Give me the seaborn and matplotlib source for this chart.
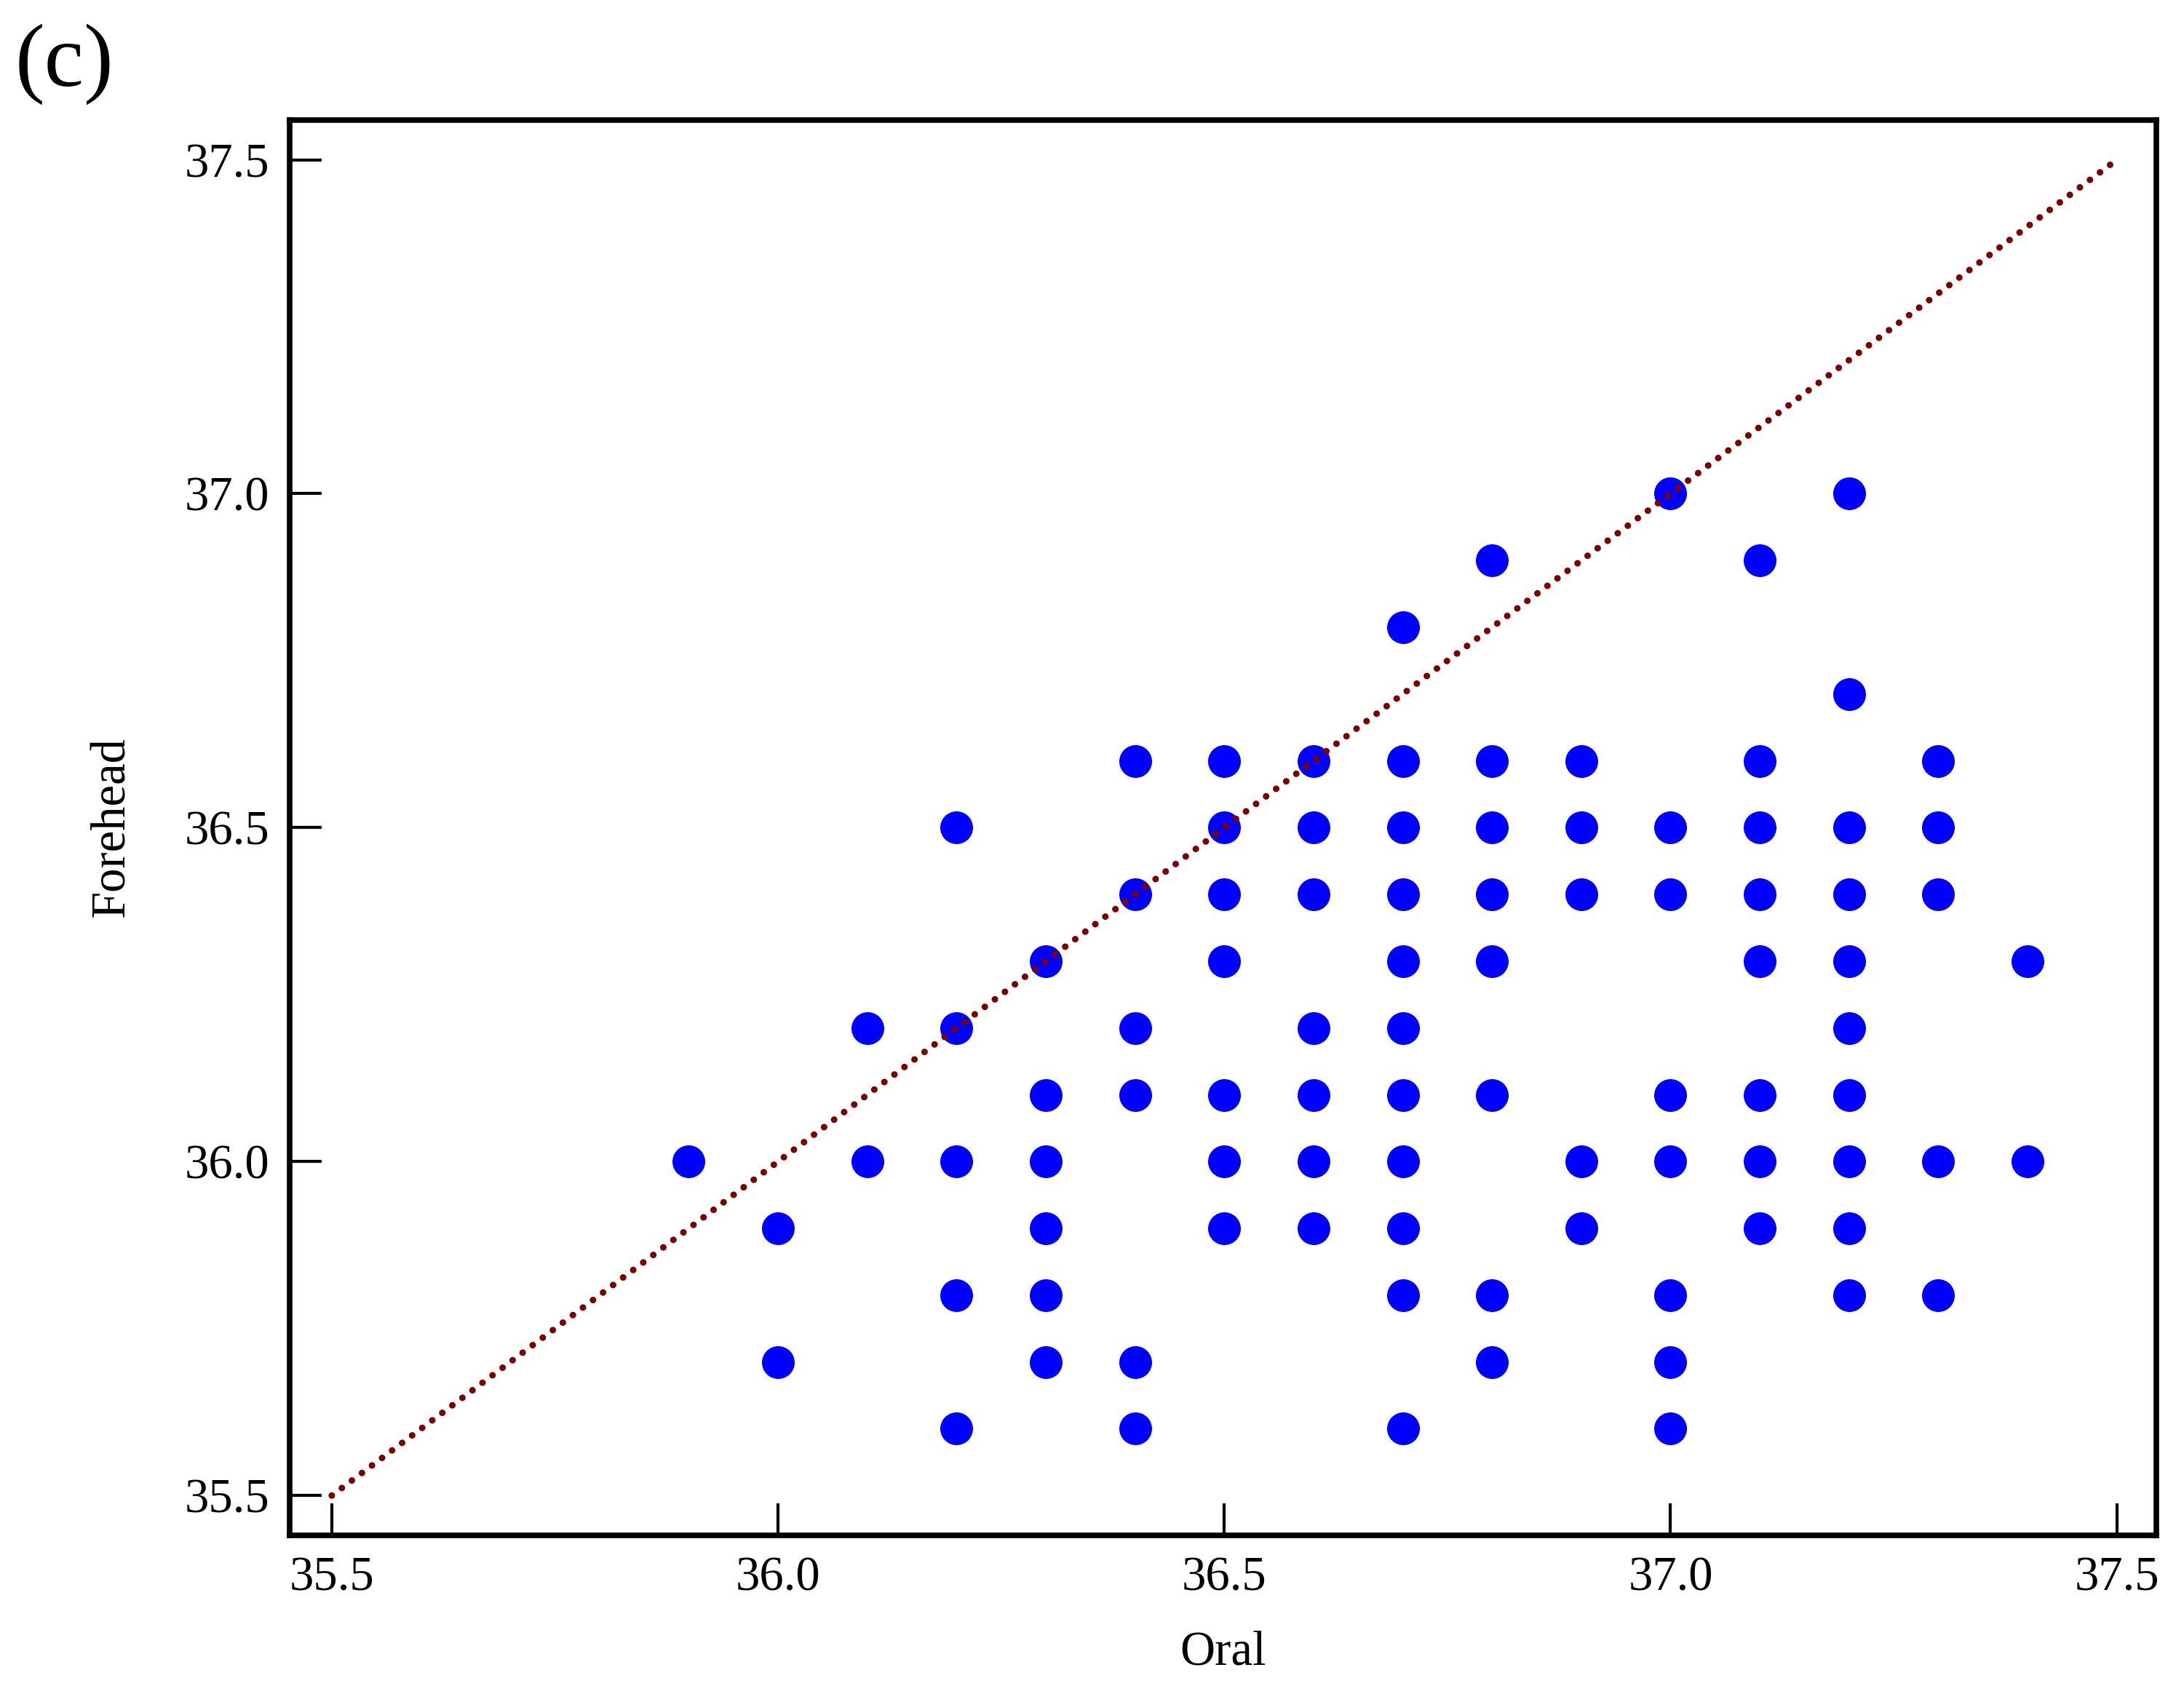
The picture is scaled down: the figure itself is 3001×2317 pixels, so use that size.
import matplotlib
matplotlib.use("Agg")
import matplotlib.pyplot as plt
import seaborn as sns
import pandas as pd

# Data: oral temperature (x) and forehead temperature (y)
oral_cols = [35.9, 36.0, 36.1, 36.2, 36.3, 36.4, 36.5, 36.6, 36.7, 36.8,
             36.9, 37.0, 37.1, 37.2, 37.3, 37.4]
forehead_vals = [
    [36.0],
    [35.9, 35.7],
    [36.2, 36.0],
    [36.5, 36.2, 36.0, 35.8, 35.6],
    [36.3, 36.1, 36.0, 35.9, 35.8, 35.7],
    [36.6, 36.4, 36.2, 36.1, 35.7, 35.6],
    [36.6, 36.5, 36.4, 36.3, 36.1, 36.0, 35.9],
    [36.6, 36.5, 36.4, 36.2, 36.1, 36.0, 35.9],
    [36.8, 36.6, 36.5, 36.4, 36.3, 36.2, 36.1, 36.0, 35.9, 35.8, 35.6],
    [36.9, 36.6, 36.5, 36.4, 36.3, 36.1, 35.8, 35.7],
    [36.6, 36.5, 36.4, 36.0, 35.9],
    [37.0, 36.5, 36.4, 36.1, 36.0, 35.8, 35.7, 35.6],
    [36.9, 36.6, 36.5, 36.4, 36.3, 36.1, 36.0, 35.9],
    [37.0, 36.7, 36.5, 36.4, 36.3, 36.2, 36.1, 36.0, 35.9, 35.8],
    [36.6, 36.5, 36.4, 36.0, 35.8],
    [36.3, 36.0],
]
identity_line = [35.5, 37.5]
ticks = [35.5, 36.0, 36.5, 37.0, 37.5]
tick_labels = ["35.5", "36.0", "36.5", "37.0", "37.5"]

rows = [(x, y) for x, ys in zip(oral_cols, forehead_vals) for y in ys]
df = pd.DataFrame(rows, columns=["Oral", "Forehead"])

sns.set_style("white")
plt.rcParams["font.family"] = ["Liberation Serif", "DejaVu Serif"]
plt.rcParams["text.color"] = "black"
plt.rcParams["axes.labelcolor"] = "black"

fig = plt.figure(figsize=(30.01, 23.17), dpi=100)
ax = fig.add_axes([0.1327, 0.0892, 0.9872 - 0.1327, 0.929 - 0.0892])

ax.plot(identity_line, identity_line, color="#7a0000", lw=6.5,
        linestyle=(0, (0.01, 1.9)), dash_capstyle="round", zorder=3)
sns.scatterplot(data=df, x="Oral", y="Forehead", ax=ax, color="#0000ff",
                s=1050, linewidth=0, zorder=2)

ax.set_xlim(35.453, 37.544)
ax.set_ylim(35.44, 37.56)
ax.set_xticks(ticks)
ax.set_xticklabels(tick_labels)
ax.set_yticks(ticks)
ax.set_yticklabels(tick_labels)

ax.tick_params(axis="both", which="major", bottom=True, left=True,
               top=False, right=False, direction="in", length=32, width=3,
               labelsize=48, pad=20, color="black", labelcolor="black")
for sp in ax.spines.values():
    sp.set_visible(True)
    sp.set_color("black")
    sp.set_linewidth(5.5)

ax.set_xlabel("Oral", fontsize=48, labelpad=30, color="black")
ax.set_ylabel("Forehead", fontsize=48, labelpad=50, color="black")

fig.text(0.007, 0.986, "(c)", fontsize=88, ha="left", va="top",
         color="black", family=["Liberation Serif", "DejaVu Serif"])

fig.savefig("out.png", dpi=100, facecolor="white")
